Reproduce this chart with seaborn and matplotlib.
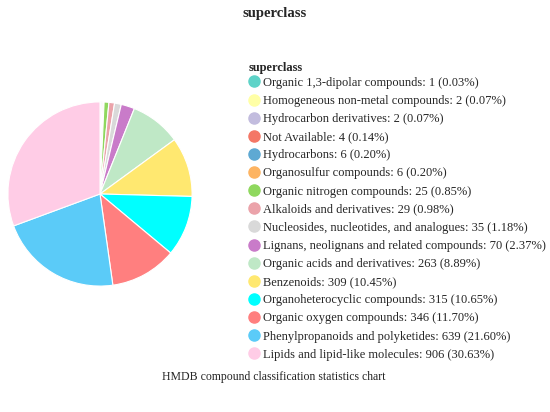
import matplotlib
matplotlib.use("Agg")
import matplotlib.pyplot as plt
import seaborn as sns
from matplotlib.lines import Line2D

# superclass counts, smallest to largest
categories = [
    "Organic 1,3-dipolar compounds",
    "Homogeneous non-metal compounds",
    "Hydrocarbon derivatives",
    "Not Available",
    "Hydrocarbons",
    "Organosulfur compounds",
    "Organic nitrogen compounds",
    "Alkaloids and derivatives",
    "Nucleosides, nucleotides, and analogues",
    "Lignans, neolignans and related compounds",
    "Organic acids and derivatives",
    "Benzenoids",
    "Organoheterocyclic compounds",
    "Organic oxygen compounds",
    "Phenylpropanoids and polyketides",
    "Lipids and lipid-like molecules",
]
counts = [1, 2, 2, 4, 6, 6, 25, 29, 35, 70, 263, 309, 315, 346, 639, 906]
percents = ["0.03%", "0.07%", "0.07%", "0.14%", "0.20%", "0.20%", "0.85%", "0.98%",
            "1.18%", "2.37%", "8.89%", "10.45%", "10.65%", "11.70%", "21.60%", "30.63%"]
colors = ["#5ED3C8", "#FFFFA6", "#C2BCDE", "#F47766", "#5EA9D3", "#FDB462",
          "#8FD85E", "#EBA3AA", "#D9D9D9", "#C97BC9", "#BFE8C6", "#FFE870",
          "#00FFFF", "#FF7F7F", "#5BCBF8", "#FFCCE6"]

sns.set_style("white")
plt.rcParams["font.family"] = ["Liberation Serif", "DejaVu Serif"]

fig = plt.figure(figsize=(5.5, 4.12), dpi=100)
ax = fig.add_axes([7 / 550, (412 - 287) / 412, 186 / 550, 186 / 412])

ax.pie(counts, colors=colors, startangle=90, counterclock=False,
       wedgeprops=dict(edgecolor="white", linewidth=0.8))
ax.set_xlim(-1.01, 1.01)
ax.set_ylim(-1.01, 1.01)
ax.set_aspect("equal")

fig.text(0.5, 1 - 13 / 412, "superclass", ha="center", va="center",
         fontsize=10.5, fontweight="bold")
fig.text(274 / 550, 1 - 377 / 412, "HMDB compound classification statistics chart",
         ha="center", va="center", fontsize=8.5)

handles = [Line2D([0], [0], marker="o", linestyle="", markersize=8,
                  markerfacecolor=c, markeredgecolor=c) for c in colors]
labels = [f"{n}: {v} ({p})" for n, v, p in zip(categories, counts, percents)]
leg = fig.legend(handles, labels, title="superclass", loc="upper left",
                 bbox_to_anchor=(244 / 550, 1 - 57 / 412), frameon=False,
                 fontsize=9, title_fontsize=9, handlelength=0.8,
                 handletextpad=0.3, labelspacing=0.49, borderaxespad=0)
leg.get_title().set_fontweight("bold")
leg._legend_box.align = "left"
leg._legend_box.sep = 2

fig.savefig("out.png", dpi=100)
